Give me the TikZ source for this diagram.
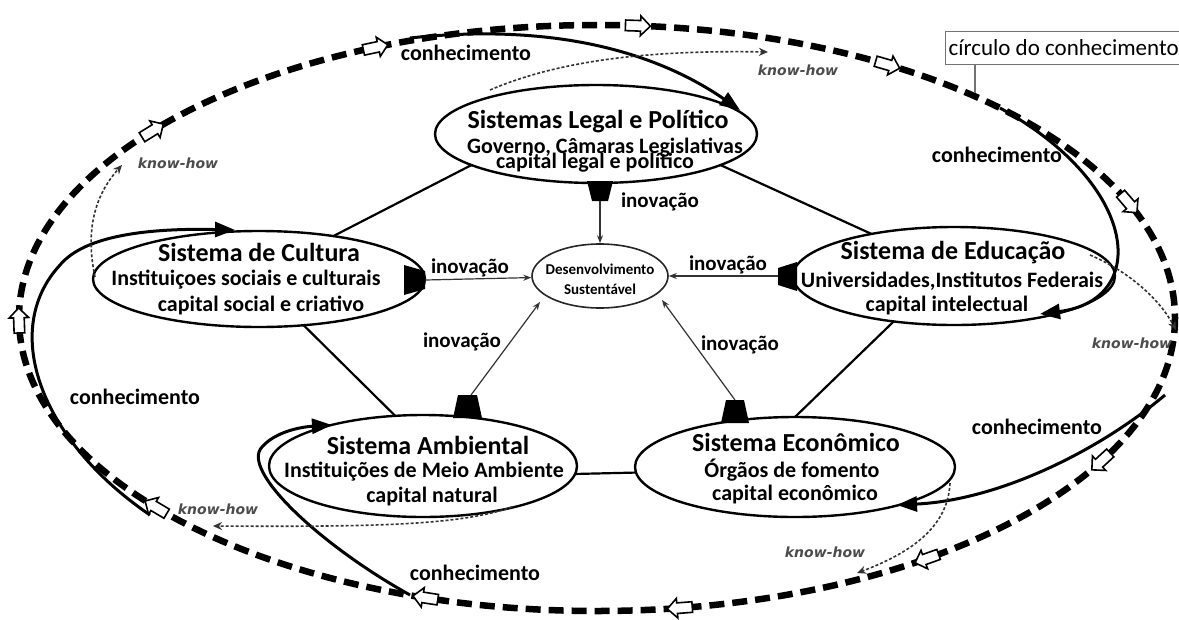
\documentclass[tikz,border=0pt]{standalone}
\usepackage{fontspec}
\setmainfont{Carlito}
\newfontfamily\khfont{DejaVu Sans}
\usetikzlibrary{arrows.meta,shapes.geometric,shapes.arrows,calc}
\begin{document}
\begin{tikzpicture}[x=1pt,y=-1pt,
  sysell/.style={ellipse, draw, line width=2.4pt, inner sep=0pt, outer sep=0pt},
  ttl/.style={font=\fontsize{26}{28}\selectfont\bfseries, inner sep=0pt},
  sub/.style={font=\fontsize{22}{24}\selectfont\bfseries, inner sep=0pt},
  lbl/.style={font=\fontsize{21}{23}\selectfont\bfseries, inner sep=0pt},
  kh/.style={font=\khfont\fontsize{14}{16}\selectfont\bfseries\itshape, text=black!70, inner sep=0pt},
  web/.style={line width=2.2pt},
  innov/.style={line width=1.2pt, draw=black!80, -{Stealth[length=8pt,width=6pt]}},
  know/.style={line width=3pt, -{Triangle[length=20pt,width=15pt]}},
  khow/.style={line width=1.6pt, draw=black!80, dash pattern=on 3pt off 2pt, -{Stealth[length=9pt,width=8pt]}},
  hollow/.style={single arrow, draw, fill=white, line width=1.6pt, inner xsep=0pt, inner ysep=4.5pt, minimum height=25pt, single arrow head extend=4.5pt},
]
\fill[white] (0,0) rectangle (1179,619);
\useasboundingbox (0,0) rectangle (1179,619);

% outer knowledge loop
\draw[line width=6.5pt, dash pattern=on 15pt off 8pt] (597,318) ellipse [x radius=578, y radius=293];
\foreach \t [count=\i] in {179,219.4,247.2,273.8,299.9,336.5,28.9,54.9,81.5,107,139.4}
  \node[hollow, rotate={atan2(-293*cos(\t),-578*sin(\t))}] (oa\i) at ({597+578*cos(\t)},{318+293*sin(\t)}) {};

% label box
\node[draw=black!55, line width=1.2pt, font=\fontsize{23}{25}\selectfont, anchor=west, inner xsep=3pt, inner ysep=0pt, minimum height=33pt] (circ) at (945,48) {círculo do conhecimento};
\coordinate (ptr) at (975,93);
\draw[black!55, line width=1.2pt] (circ.south -| ptr) -- (ptr);

% ellipses
\node[sysell, minimum width=322pt, minimum height=98pt] (legal) at (596,134) {};
\node[sysell, minimum width=332pt, minimum height=96pt] (cultura) at (259,279) {};
\node[sysell, minimum width=322pt, minimum height=98pt] (educ) at (954,276) {};
\node[sysell, minimum width=308pt, minimum height=102pt] (amb) at (423,466) {};
\node[sysell, minimum width=320pt, minimum height=100pt] (econ) at (795,467) {};
\node[ellipse, draw=black!85, line width=1.6pt, inner sep=0pt, minimum width=136pt, minimum height=64pt] (desenv) at (600,276) {};

% texts
\node[ttl] (t1a) at (598,122) {Sistemas Legal e Político};
\node[sub] (t1b) at (605,148) {Governo, Câmaras Legislativas};
\node[sub] (t1c) at (595,163) {capital legal e político};
\node[ttl] (t2a) at (259,252) {Sistema de Cultura};
\node[sub] (t2b) at (246,280) {Instituiçoes sociais e culturais};
\node[sub] (t2c) at (261,305) {capital social e criativo};
\node[ttl] (t3a) at (953,253) {Sistema de Educação};
\node[sub] (t3b) at (952,281) {Universidades,Institutos Federais};
\node[sub] (t3c) at (947,306) {capital intelectual};
\node[ttl] (t4a) at (428,445) {Sistema Ambiental};
\node[sub] (t4b) at (424,472) {Instituições de Meio Ambiente};
\node[sub] (t4c) at (432,497) {capital natural};
\node[ttl] (t5a) at (796,442) {Sistema Econômico};
\node[sub] (t5b) at (792,470) {Órgãos de fomento};
\node[sub] (t5c) at (795,495) {capital econômico};
\node[font=\fontsize{15}{17}\selectfont\bfseries, inner sep=0pt] (t6a) at (600,269) {Desenvolvimento};
\node[font=\fontsize{15}{17}\selectfont\bfseries, inner sep=0pt] (t6b) at (600,289) {Sustentável};

% web between systems
\draw[web] (legal.194.5) -- (cultura.30.7);
\draw[web] (legal.346.7) -- (educ.153.2);
\draw[web] (cultura.314.4) -- (amb.119.5);
\draw[web] (educ.217.4) -- (econ.90);
\draw[web] (amb.-3.3) -- (econ.182.9);

% innovation tails and arrows
\fill (587,181) -- (613,181) -- (608,201) -- (592,201) -- cycle;
\fill (404,265) -- (404,295) -- (425,289) -- (425,271) -- cycle;
\fill (797,262) -- (797,291) -- (778,285) -- (778,268) -- cycle;
\fill (453,418) -- (482,418) -- (477,395) -- (458,395) -- cycle;
\fill (721,423) -- (749,423) -- (744,400) -- (726,400) -- cycle;
\coordinate (tl) at (600,201);
\coordinate (tc) at (425,280);
\coordinate (te) at (778,276);
\coordinate (ta) at (471,395);
\coordinate (tx) at (735,400);
\coordinate (dA) at (540,302);
\coordinate (dE) at (662,300);
\draw[innov] (tl) -- (desenv);
\draw[innov] (tc) -- (desenv);
\draw[innov] (te) -- (desenv);
\draw[innov] (ta) -- (dA);
\draw[innov] (tx) -- (dE);
\node[lbl] (i1) at (660,202) {inovação};
\node[lbl] (i2) at (470,268) {inovação};
\node[lbl] (i3) at (728,265) {inovação};
\node[lbl] (i4) at (462,342) {inovação};
\node[lbl] (i5) at (740,345) {inovação};

% knowledge arrows
\coordinate (k1s) at (410,38);   \coordinate (k1e) at (740,110);
\coordinate (k2s) at (1000,108); \coordinate (k2e) at (1040,314);
\coordinate (k3s) at (1165,395); \coordinate (k3e) at (897,505);
\coordinate (k4s) at (410,595);  \coordinate (k4e) at (332,425);
\coordinate (k5s) at (150,515);  \coordinate (k5e) at (235,230);
\draw[know] (k1s) .. controls (560,22) and (660,55) .. (k1e);
\draw[know] (k2s) .. controls (1140,185) and (1150,300) .. (k2e);
\draw[know] (k3s) .. controls (1100,450) and (1000,500) .. (k3e);
\draw[know] (k4s) .. controls (320,545) and (240,470) .. (262,447) .. controls (275,432) and (300,427) .. (k4e);
\draw[know] (k5s) .. controls (40,440) and (0,330) .. (60,265) .. controls (85,235) and (150,228) .. (k5e);
\node[lbl, font=\fontsize{22}{24}\selectfont\bfseries] (c1) at (466,53) {conhecimento};
\node[lbl, font=\fontsize{22}{24}\selectfont\bfseries] (c2) at (997,155) {conhecimento};
\node[lbl, font=\fontsize{22}{24}\selectfont\bfseries] (c3) at (1037,427) {conhecimento};
\node[lbl, font=\fontsize{22}{24}\selectfont\bfseries] (c4) at (475,573) {conhecimento};
\node[lbl, font=\fontsize{22}{24}\selectfont\bfseries] (c5) at (135,397) {conhecimento};

% know-how arrows
\coordinate (h1s) at (490,90);   \coordinate (h1e) at (768,52);
\coordinate (h2s) at (95,277);   \coordinate (h2e) at (122,165);
\coordinate (h3s) at (1090,255); \coordinate (h3e) at (1176,330);
\coordinate (h4s) at (950,483);  \coordinate (h4e) at (857,573);
\coordinate (h5s) at (512,507);  \coordinate (h5e) at (213,526);
\draw[khow] (h1s) .. controls (560,60) and (650,50) .. (h1e);
\draw[khow] (h2s) .. controls (85,230) and (95,195) .. (h2e);
\draw[khow] (h3s) .. controls (1130,272) and (1160,300) .. (h3e);
\draw[khow] (h4s) .. controls (948,530) and (905,555) .. (h4e);
\draw[khow] (h5s) .. controls (460,525) and (380,527) .. (h5e);
\node[kh] (w1) at (798,70) {know-how};
\node[kh] (w2) at (178,163) {know-how};
\node[kh] (w3) at (1132,343) {know-how};
\node[kh] (w4) at (825,552) {know-how};
\node[kh] (w5) at (218,509) {know-how};
\end{tikzpicture}
\end{document}
